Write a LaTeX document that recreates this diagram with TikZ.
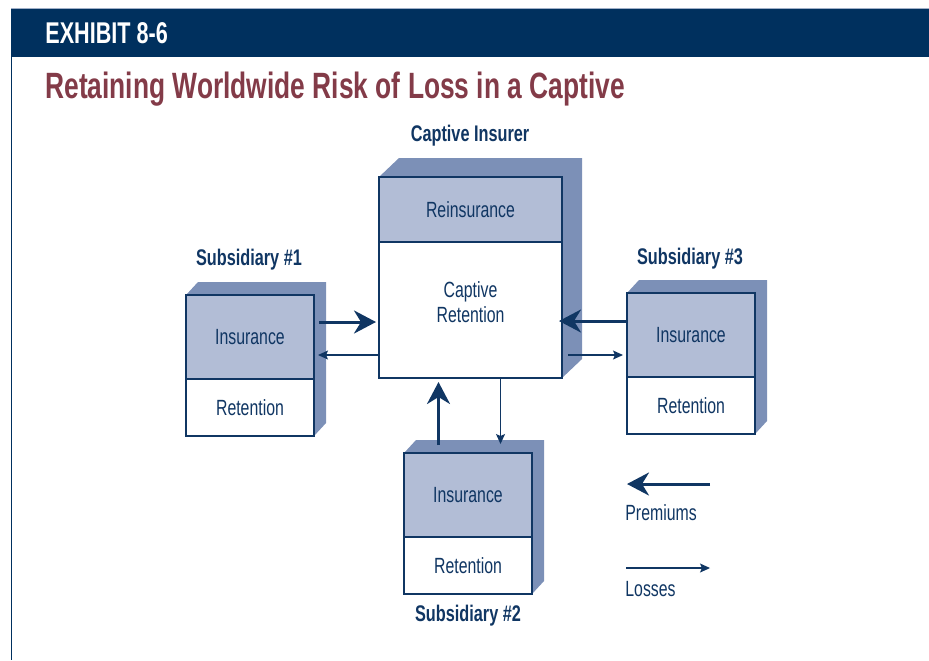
\documentclass[tikz,border=0pt]{standalone}
\usepackage{fontspec}
\setmainfont[FakeStretch=0.72]{Liberation Sans}
\usepackage{tikz}
\usetikzlibrary{arrows.meta,positioning}
\definecolor{azulMarino}{RGB}{0,48,94}
\definecolor{azulTexto}{RGB}{16,54,99}
\definecolor{azulClaro}{RGB}{178,189,214}
\definecolor{azulMedio}{RGB}{124,144,183}
\definecolor{granate}{RGB}{131,59,72}
\definecolor{grisLinea}{RGB}{160,176,200}
\newcommand{\cuerpo}{\fontsize{11}{12.5}\selectfont}
\tikzstyle{face}   =[draw=azulTexto, line width=0.6pt, outer sep=0pt,
                     inner sep=0pt, text=azulTexto, font=\cuerpo]
\tikzstyle{cover}  =[face, fill=azulClaro]
\tikzstyle{retain} =[face, fill=white]
\tikzstyle{side}   =[fill=azulMedio]
\tikzstyle{premium}=[-{Stealth[length=11pt,width=11.5pt,inset=3.5pt]},
                     line width=1.5pt, draw=azulTexto]
\tikzstyle{loss}   =[-{Stealth[length=5pt,width=4.5pt,inset=1pt]},
                     line width=0.6pt, draw=azulTexto]
\tikzstyle{caption}=[text=azulTexto, inner sep=0pt,
                     font=\bfseries\fontsize{11.3}{13}\selectfont]

\begin{document}
\begin{tikzpicture}[x=0.5pt,y=-0.5pt]
    \useasboundingbox (0,0) rectangle (929,660);

    % header
    \fill[azulMarino] (11,8) rectangle (929,57);
    \draw[grisLinea, line width=0.5pt] (11,8) -- (929,8);
    \draw[azulMarino, line width=0.8pt] (11.5,57) -- (11.5,660);
    \node[anchor=base west, inner sep=0pt, text=white,
          font=\bfseries\fontsize{15}{17}\selectfont] (exhibit) at (45,43) {EXHIBIT 8-6};
    \node[anchor=base west, inner sep=0pt, text=granate,
          font=\bfseries\fontsize{18.3}{21}\selectfont] (title) at (45,98)
          {Retaining Worldwide Risk of Loss in a Captive};

    % captive insurer
    \fill[side] (379,177) -- ++(20,-19) -- ++(183,0) -- ++(0,201) -- ++(-20,19) -- cycle;
    \node[cover, anchor=north west, minimum width=91.5pt, minimum height=32.5pt]
          (crein) at (379,177) {Reinsurance};
    \node[retain, below=0pt of crein, minimum width=91.5pt, minimum height=68pt]
          (cret) {\raisebox{2.5pt}[\height][\depth]{\begin{tabular}{@{}c@{}}Captive\\Retention\end{tabular}}};
    \node[caption] (capt) at (470,136) {Captive Insurer};

    % subsidiaries
    \foreach \n/\x/\y in {1/186/295, 2/404/453, 3/627/293}{
        \fill[side] (\x,\y) -- ++(12,-13) -- ++(128,0) -- ++(0,141) -- ++(-12,13) -- cycle;
        \node[cover, anchor=north west, minimum width=64pt, minimum height=42pt]
              (ins\n) at (\x,\y) {Insurance};
        \node[retain, below=0pt of ins\n, minimum width=64pt, minimum height=28.5pt]
              (ret\n) {Retention};
    }
    \node[caption] (sub1) at (249,260) {Subsidiary \#1};
    \node[caption] (sub3) at (690,259) {Subsidiary \#3};
    \node[caption] (sub2) at (468,616) {Subsidiary \#2};

    % premiums in, losses out
    \coordinate (p1) at ([xshift=2.5pt,yshift=7.5pt]ins1.east);
    \draw[premium, shorten >=1.5pt] (p1) -- (p1 -| cret.west);
    \coordinate (l1) at ([yshift=-9pt]ins1.east);
    \draw[loss, shorten >=2pt] (l1 -| cret.west) -- (l1);

    \coordinate (p3) at ([yshift=7pt]ins3.west);
    \draw[premium, shorten >=-1.5pt] (p3) -- (p3 -| cret.east);
    \coordinate (l3) at ([yshift=-10pt]ins3.west);
    \draw[loss, shorten <=3pt, shorten >=2pt] (l3 -| cret.east) -- (l3);

    \coordinate (p2) at ([xshift=-14.75pt,yshift=4pt]ins2.north);
    \draw[premium, shorten >=2pt] (p2) -- (p2 |- cret.south);
    \coordinate (l2) at ([xshift=16.25pt,yshift=4.5pt]ins2.north);
    \draw[loss] (l2 |- cret.south) -- (l2);

    % key
    \node[anchor=west, inner sep=0pt, text=azulTexto, font=\cuerpo] (keyprem) at (625,513) {Premiums};
    \node[anchor=west, inner sep=0pt, text=azulTexto, font=\cuerpo] (keyloss) at (625,589) {Losses};
    \coordinate (pa) at (710,484);
    \coordinate (pb) at (627,484);
    \draw[premium] (pa) -- (pb);
    \coordinate (la) at (626,568);
    \coordinate (lb) at (710,568);
    \draw[loss] (la) -- (lb);
\end{tikzpicture}
\end{document}
